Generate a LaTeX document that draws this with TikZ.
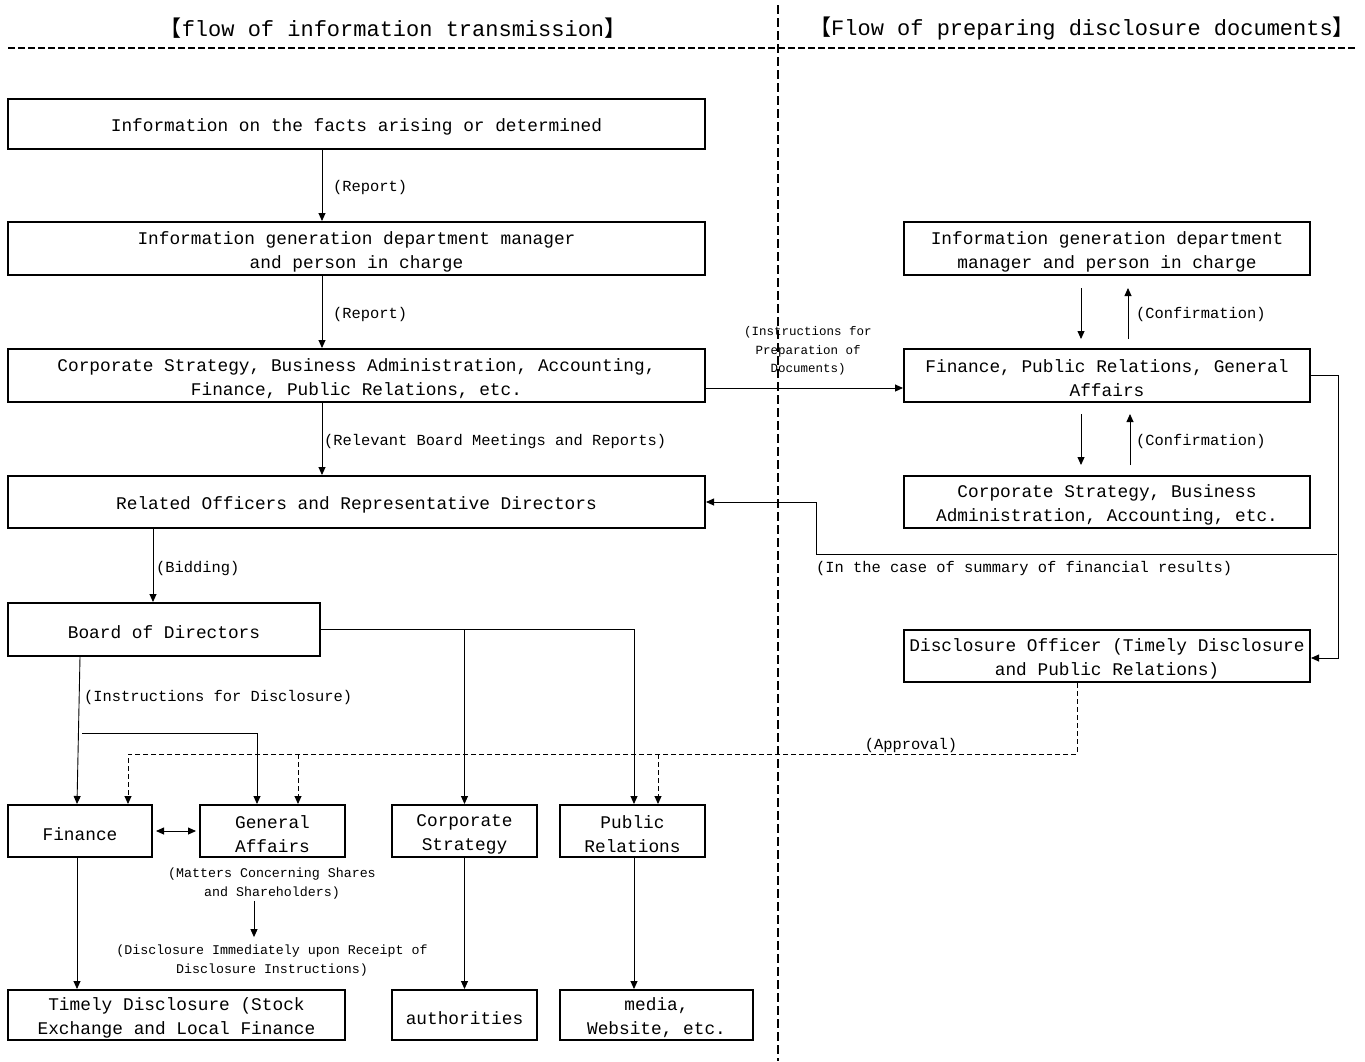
\documentclass[tikz,border=0pt]{standalone}
\usepackage{fontspec}
\usetikzlibrary{arrows.meta}
\newfontfamily\monofam{Liberation Mono}
\newfontfamily\cjkfam{Noto Sans CJK JP}
\newcommand\boxfont{\monofam\fontsize{17.8}{24}\selectfont}
\newcommand\labfont{\monofam\fontsize{15.4}{20}\selectfont}
\newcommand\smlfont{\monofam\fontsize{13.3}{19}\selectfont}
\newcommand\hdrfont{\monofam\fontsize{22}{26}\selectfont}
\newcommand\topstrut{\rule{0pt}{19pt}}
\newcommand\ts{\rule{0pt}{19pt}}
\begin{document}
\begin{tikzpicture}[x=1pt,y=-1pt,
  box/.style={draw, line width=2pt, inner sep=0pt, align=center, font=\boxfont, execute at begin node=\topstrut},
  box2/.style={draw, line width=2pt, inner sep=0pt, align=center, font=\boxfont},
  arr/.style={-{Triangle[length=8pt,width=7pt]}, line width=0.9pt},
  dbl/.style={{Triangle[length=8pt,width=7pt]}-{Triangle[length=8pt,width=7pt]}, line width=0.9pt},
  darr/.style={-{Triangle[length=8pt,width=7pt]}, line width=0.9pt, dash pattern=on 5pt off 3pt},
  lab/.style={inner sep=0pt, font=\labfont, anchor=west},
  sml/.style={inner sep=0pt, font=\smlfont, align=center}]
\useasboundingbox[fill=white] (0,0) rectangle (1365,1061);

% header
\node[inner sep=0pt] (h1) at (393,28) {{\cjkfam\fontsize{22}{26}\selectfont 【}{\hdrfont flow of information transmission}{\cjkfam\fontsize{22}{26}\selectfont 】}};
\node[inner sep=0pt] (h2) at (1082,28) {{\cjkfam\fontsize{22}{26}\selectfont 【}{\hdrfont Flow of preparing disclosure documents}{\cjkfam\fontsize{22}{26}\selectfont 】}};
\coordinate (hl) at (8,48);
\coordinate (hr) at (1358,48);
\coordinate (vt) at (778,5);
\coordinate (vb) at (778,1061);
\draw[line width=2pt, dash pattern=on 7pt off 3pt] (hl) -- (hr);
\draw[line width=2pt, dash pattern=on 9pt off 4pt] (vt) -- (vb);

% left boxes
\node[box, minimum width=697, minimum height=50] (B1) at (356.5,124) {Information on the facts arising or determined};
\node[box2, minimum width=697, minimum height=53] (B2) at (356.5,248.5) {\ts Information generation department manager\\and person in charge};
\node[box2, minimum width=697, minimum height=53] (B3) at (356.5,375.5) {\ts Corporate Strategy, Business Administration, Accounting,\\Finance, Public Relations, etc.};
\node[box, minimum width=697, minimum height=52] (B4) at (356.5,502) {Related Officers and Representative Directors};
\node[box, minimum width=312, minimum height=53] (B5) at (164,629.5) {Board of Directors};
\node[box, minimum width=144, minimum height=52] (Fin) at (80,831) {Finance};
\node[box2, minimum width=145, minimum height=52] (GA) at (272.5,831) {\ts General\\Affairs};
\node[box2, minimum width=145, minimum height=52] (CS) at (464.5,831) {\ts Corporate\\Strategy};
\node[box2, minimum width=145, minimum height=52] (PR) at (632.5,831) {\ts Public\\Relations};
\node[box2, minimum width=337, minimum height=50] (TD) at (176.5,1015) {\ts Timely Disclosure (Stock\\Exchange and Local Finance};
\node[box, minimum width=145, minimum height=50] (AU) at (464.5,1015) {authorities};
\node[box2, minimum width=193, minimum height=50] (ME) at (656.5,1015) {\ts media,\\Website, etc.};

% right boxes
\node[box2, minimum width=406, minimum height=53] (R1) at (1107,248.5) {\ts Information generation department\\manager and person in charge};
\node[box2, minimum width=406, minimum height=53] (R2) at (1107,375.5) {\ts Finance, Public Relations, General\\Affairs};
\node[box2, minimum width=406, minimum height=52] (R3) at (1107,502) {\ts Corporate Strategy, Business\\Administration, Accounting, etc.};
\node[box2, minimum width=406, minimum height=52] (R4) at (1107,656) {\ts Disclosure Officer (Timely Disclosure\\and Public Relations)};

% left vertical chain
\draw[arr] ([xshift=-34.5]B1.south) -- ([xshift=-34.5]B2.north);
\node[lab] (l1) at (333,188) {(Report)};
\draw[arr] ([xshift=-34.5]B2.south) -- ([xshift=-34.5]B3.north);
\node[lab] (l2) at (333,315) {(Report)};
\draw[arr] ([xshift=-34.5]B3.south) -- ([xshift=-34.5]B4.north);
\node[lab] (l3) at (324,442) {(Relevant Board Meetings and Reports)};
\draw[arr] ([xshift=-203.5]B4.south) -- ([xshift=-11]B5.north);
\node[lab] (l4) at (156,569) {(Bidding)};

% to right side
\draw[arr] ([yshift=-12.5]B3.east) -- ([yshift=-12.5]R2.west);
\node[sml, font=\monofam\fontsize{12.5}{18.5}\selectfont] (l5) at (808,351) {(Instructions for\\Preparation of\\Documents)};

% confirmations
\draw[arr, shorten <=12pt, shorten >=9pt] ([xshift=-26]R1.south) -- ([xshift=-26]R2.north);
\draw[arr, shorten <=9pt, shorten >=12pt] ([xshift=21]R2.north) -- ([xshift=21]R1.south);
\node[lab] (l6) at (1136,315) {(Confirmation)};
\draw[arr, shorten <=11pt, shorten >=10pt] ([xshift=-26]R2.south) -- ([xshift=-26]R3.north);
\draw[arr, shorten <=10pt, shorten >=11pt] ([xshift=23]R3.north) -- ([xshift=23]R2.south);
\node[lab] (l7) at (1136,442) {(Confirmation)};

% R2 -> R4 and summary branch
\draw[arr] (R2.east) -- ++(27,0) |- ([yshift=-2]R4.east);
\coordinate (sj) at (1337,554);
\draw[arr] (sj) -- ++(-521,0) |- (B4.east);
\node[lab] (l8) at (816,569) {(In the case of summary of financial results)};

% board of directors distribution
\draw[arr] (B5.east) -| ([xshift=1.5]PR.north);
\draw[arr] (CS.north |- B5.east) -- (CS.north);
\draw[arr] ([xshift=-84]B5.south) -- ([xshift=-3]Fin.north);
\node[lab] (l9) at (84,698) {(Instructions for Disclosure)};
\coordinate (ij) at (82,733);
\draw[arr] (ij) -| ([xshift=-15.5]GA.north);

% approval
\coordinate (aL) at (128,754);
\draw[darr] ([xshift=-30]R4.south) |- (aL) -- ([xshift=48]Fin.north);
\draw[darr] ([xshift=25.5]GA.north |- aL) -- ([xshift=25.5]GA.north);
\draw[darr] ([xshift=25.5]PR.north |- aL) -- ([xshift=25.5]PR.north);
\node[inner sep=0pt, font=\labfont] (l10) at (911,746) {(Approval)};

% bottom section
\draw[dbl, shorten <=3pt, shorten >=3pt] (Fin.east) -- (GA.west);
\node[sml] (m1) at (272,884) {(Matters Concerning Shares\\and Shareholders)};
\node[sml] (m2) at (272,961) {(Disclosure Immediately upon Receipt of\\Disclosure Instructions)};
\draw[arr, shorten <=1pt, shorten >=8pt] ([xshift=-18]m1.south) -- ([xshift=-18]m2.north);
\draw[arr] ([xshift=-3]Fin.south) -- ([xshift=-99.5]TD.north);
\draw[arr] (CS.south) -- (AU.north);
\draw[arr] ([xshift=1.5]PR.south) -- ([xshift=-22.5]ME.north);
\end{tikzpicture}
\end{document}
